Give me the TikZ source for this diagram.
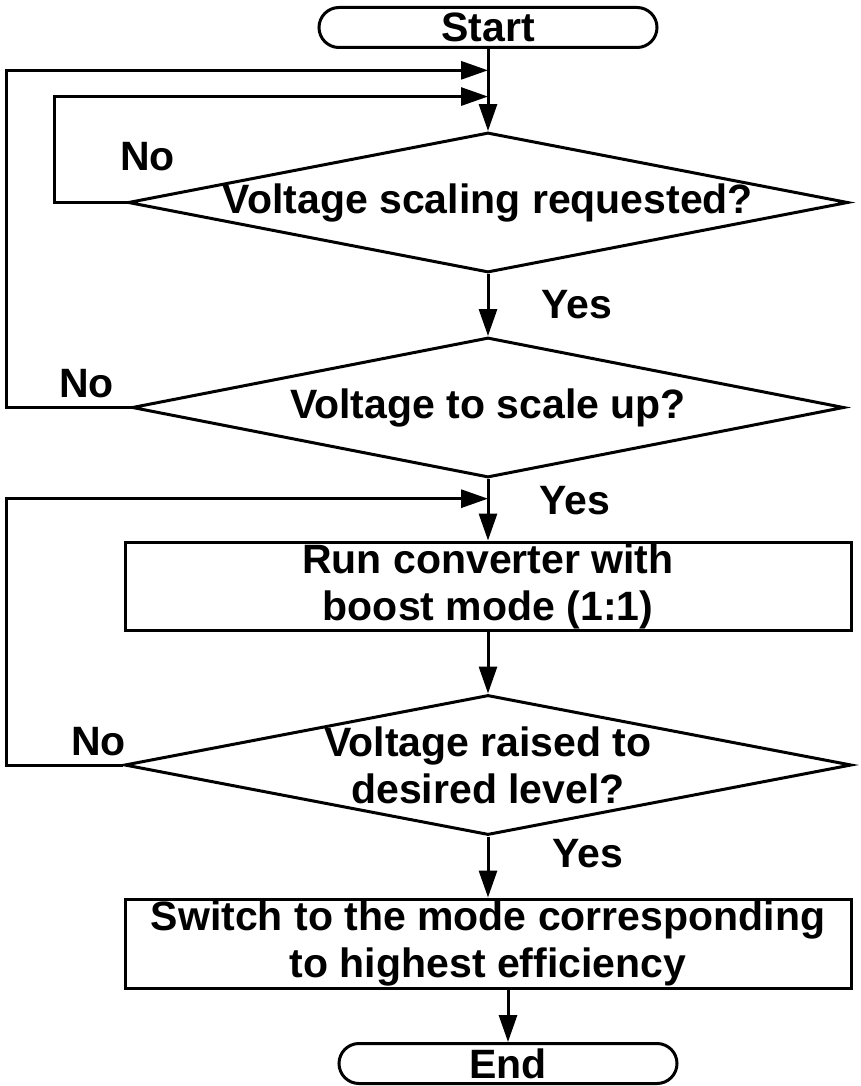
\documentclass[tikz,border=0pt]{standalone}
\usepackage{fontspec}
\setmainfont{Liberation Sans}
\usetikzlibrary{shapes.geometric,arrows.meta,positioning,calc}

\begin{document}
\begin{tikzpicture}[>={Triangle[length=27pt,width=18pt]},line width=3pt,on grid,
    font=\bfseries\fontsize{41}{47}\selectfont,
    terminal/.style={draw,rectangle,rounded corners=20pt,minimum width=338pt,minimum height=40pt,inner sep=0pt},
    process/.style={draw,rectangle,minimum width=726pt,minimum height=88pt,inner sep=0pt,align=center},
    decision/.style={draw,diamond,minimum width=720pt,minimum height=140pt,inner xsep=-400pt,inner ysep=-100pt,align=center}]
            \useasboundingbox (0,0) rectangle (860pt,-1086pt);
            \node[terminal] (start) at (488pt,-27.5pt) {Start};
            \node[decision] (dec_1) [below=175pt of start] {Voltage scaling requested?};
            \node[decision,minimum width=712pt] (dec_2) [below=205pt of dec_1] {Voltage to scale up?};
            \node[process] (box_1) [below=178.5pt of dec_2] {Run converter with\\boost mode (1:1)};
            \node[decision,minimum width=727pt] (dec_3) [below=179pt of box_1] {Voltage raised to\\desired level?};
            \node[process,minimum height=89pt] (box_2) [below=178.5pt of dec_3] {Switch to the mode corresponding\\to highest efficiency};
            \node[terminal] (end) [below=120pt of box_2,xshift=20pt] {End};
            % points where the loops join the main line
            \coordinate (m_1) at ($(start.south)!0.26!(dec_1.north)$);
            \coordinate (m_2) at ($(start.south)!0.58!(dec_1.north)$);
            \coordinate (m_3) at ($(dec_2.south)!0.32!(box_1.north)$);
            \path[->]
            (start) edge (dec_1)
            (dec_1) edge node[pos=0.5,xshift=89pt] {Yes} (dec_2)
            (dec_2) edge node[pos=0.35,xshift=87pt] {Yes} (box_1)
            (box_1) edge (dec_3)
            (dec_3) edge node[pos=0.28,xshift=100pt] {Yes} (box_2);
            \draw[->] (box_2.south -| end.north) -- (end.north);
            \draw[->] (dec_1.west) -- ++(-72pt,0) |- (m_2);
            \draw[->] (dec_2.west) -- ++(-124pt,0) |- (m_1);
            \draw[->] (dec_3.west) -- ++(-116.5pt,0) |- (m_3);
            \node (no_1) at ($(dec_1.west)+(21pt,45.5pt)$) {No};
            \node (no_2) at ($(dec_2.west)+(-44pt,23.5pt)$) {No};
            \node (no_3) at ($(dec_3.west)+(-24.5pt,23pt)$) {No};
        \end{tikzpicture}
\end{document}
